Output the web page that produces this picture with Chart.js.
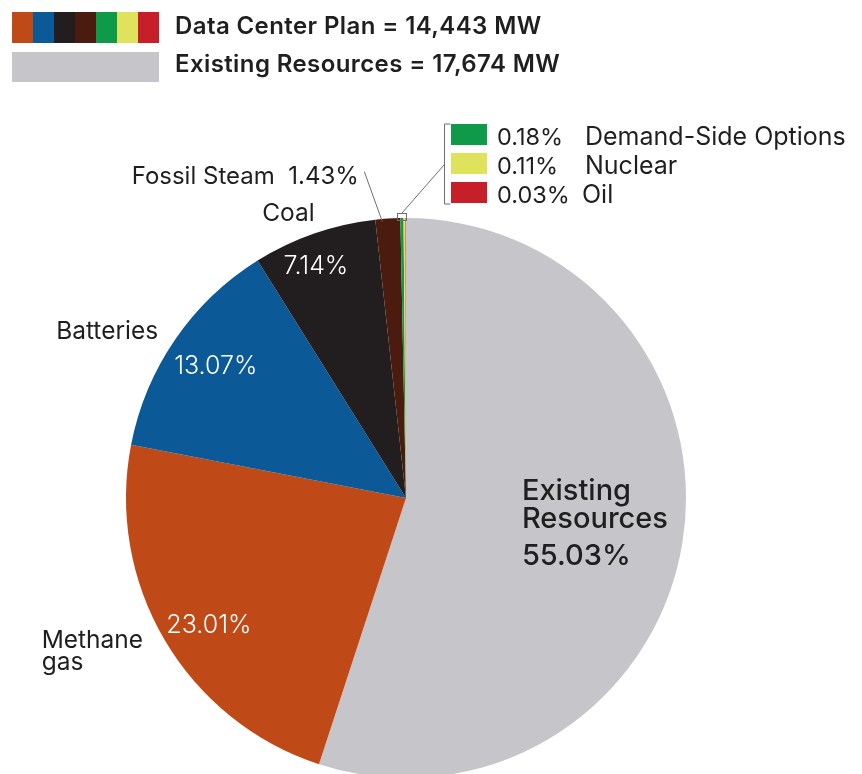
<!DOCTYPE html>
<html>
<head>
<meta charset="utf-8">
<script src="https://cdn.jsdelivr.net/npm/chart.js@4/dist/chart.umd.min.js"></script>
<style>
  html, body { margin: 0; padding: 0; background: #ffffff; overflow: hidden; }
  #wrap { position: relative; width: 862px; height: 774px; }
  #chart { position: absolute; left: 0; top: 0; }
  .sw { position: absolute; }
  .lt { position: absolute; left: 175px; font-family: Inter, "Liberation Sans", sans-serif; font-weight: 600;
        font-size: 24px; line-height: 24px; color: #1f1f1f; white-space: nowrap; letter-spacing: 0.4px; }
</style>
</head>
<body>
<div id="wrap">
  <canvas id="chart" width="862" height="774"></canvas>
  <div id="topLegend"></div>
</div>
<script>
// ---- data ----
const categories = ['Existing Resources', 'Methane gas', 'Batteries', 'Coal', 'Fossil Steam',
                    'Demand-Side Options', 'Nuclear', 'Oil'];
const shares = [55.03, 23.01, 13.07, 7.14, 1.43, 0.18, 0.11, 0.03];
const sliceColors = ['#c6c6ca', '#bf4a17', '#0b5a97', '#221e1f', '#4a1b0e', '#0f9a4a', '#dfe35c', '#c61f2a'];
const planTotalMW = '14,443';
const existingTotalMW = '17,674';
const groupTitles = ['Data Center Plan', 'Existing Resources'];

// ---- top legend (HTML) ----
const tl = document.getElementById('topLegend');
const planCols = sliceColors.slice(1);
planCols.forEach((c, i) => {
  const d = document.createElement('div');
  d.className = 'sw';
  d.style.cssText = `left:${12 + i * 21}px;top:12px;width:21px;height:31px;background:${c}`;
  tl.appendChild(d);
});
const g = document.createElement('div');
g.className = 'sw';
g.style.cssText = `left:12px;top:52px;width:147px;height:30px;background:${sliceColors[0]}`;
tl.appendChild(g);
const t1 = document.createElement('div');
t1.className = 'lt'; t1.style.top = '14px';
t1.textContent = `${groupTitles[0]} = ${planTotalMW} MW`;
tl.appendChild(t1);
const t2 = document.createElement('div');
t2.className = 'lt'; t2.style.top = '52px';
t2.textContent = `${groupTitles[1]} = ${existingTotalMW} MW`;
tl.appendChild(t2);

const pct = v => v.toFixed(2) + '%';
const FONT = 'Inter, "Liberation Sans", sans-serif';

// ---- labels plugin ----
const labelPlugin = {
  id: 'sliceLabels',
  afterDatasetsDraw(chart) {
    const ctx = chart.ctx;
    const arcs = chart.getDatasetMeta(0).data;
    const at = (i, rf) => {
      const a = arcs[i];
      const ang = (a.startAngle + a.endAngle) / 2;
      return { x: a.x + Math.cos(ang) * a.outerRadius * rf, y: a.y + Math.sin(ang) * a.outerRadius * rf };
    };
    ctx.save();
    ctx.textBaseline = 'alphabetic';

    // Existing resources inside label
    let p = at(0, 0.6);
    ctx.fillStyle = '#1f1f1f';
    ctx.font = `500 29px ${FONT}`;
    ctx.textAlign = 'left';
    ctx.fillText('Existing', p.x - 50, p.y - 24);
    ctx.fillText('Resources', p.x - 50, p.y + 4);
    ctx.fillText(pct(shares[0]), p.x - 50, p.y + 41);

    // inner white percentages
    ctx.fillStyle = '#ffffff';
    ctx.font = `300 25px ${FONT}`;
    ctx.textAlign = 'center';
    ctx.textBaseline = 'middle';
    const inner = [[1, 8, 7], [2, 6, 3], [3, -12, -7]];
    inner.forEach(([i, dx, dy]) => {
      const q = at(i, 0.85);
      ctx.fillText(pct(shares[i]), q.x + dx, q.y + dy);
    });

    // outer names
    ctx.fillStyle = '#1f1f1f';
    ctx.font = `400 24.5px ${FONT}`;
    ctx.textAlign = 'left';
    ctx.textBaseline = 'alphabetic';
    p = at(1, 1);
    ctx.fillText('Methane', p.x - 123, p.y + 8);
    ctx.fillText('gas', p.x - 123, p.y + 30);
    p = at(2, 1);
    ctx.fillText(categories[2], p.x - 119, p.y - 1);
    p = at(3, 1);
    ctx.fillText(categories[3], p.x - 52, p.y - 12);

    // Fossil steam with leader
    p = at(4, 1);
    ctx.textAlign = 'right';
    ctx.font = `400 24px ${FONT}`;
    ctx.fillText(`${categories[4]}  ${pct(shares[4])}`, p.x - 29, p.y - 35);
    ctx.strokeStyle = '#6f6f6f';
    ctx.lineWidth = 1;
    ctx.beginPath();
    ctx.moveTo(p.x - 5.5, p.y + 3);
    ctx.lineTo(p.x - 23.5, p.y - 47);
    ctx.stroke();

    // small slices callout
    const a7 = arcs[7];
    const tp = { x: a7.x + Math.cos(a7.endAngle) * a7.outerRadius, y: a7.y + Math.sin(a7.endAngle) * a7.outerRadius };
    ctx.strokeStyle = '#6f6f6f';
    ctx.lineWidth = 1;
    ctx.strokeRect(Math.round(tp.x - 9) + 0.5, Math.round(tp.y - 5) + 0.5, 9, 7);
    ctx.beginPath();
    ctx.moveTo(tp.x - 4, tp.y - 5);
    ctx.lineTo(tp.x + 38, tp.y - 53);
    ctx.stroke();
    const bx = Math.round(tp.x + 38) + 0.5;
    ctx.beginPath();
    ctx.moveTo(bx + 6, tp.y - 94);
    ctx.lineTo(bx, tp.y - 94);
    ctx.lineTo(bx, tp.y - 14);
    ctx.lineTo(bx + 6, tp.y - 14);
    ctx.stroke();

    ctx.textAlign = 'left';
    [5, 6, 7].forEach((i, k) => {
      const base = tp.y - 73 + k * 29;
      ctx.fillStyle = sliceColors[i];
      ctx.fillRect(tp.x + 45, base - 21, 36, 21);
      ctx.fillStyle = '#1f1f1f';
      ctx.font = `400 23.5px ${FONT}`;
      ctx.fillText(pct(shares[i]), tp.x + 91, base);
      ctx.font = `400 25px ${FONT}`;
      ctx.fillText(categories[i], tp.x + (i === 7 ? 176 : 179), base);
    });
    ctx.restore();
  }
};

new Chart(document.getElementById('chart').getContext('2d'), {
  type: 'pie',
  data: {
    labels: categories,
    datasets: [{
      data: shares,
      backgroundColor: sliceColors,
      borderWidth: 0,
      radius: 280
    }]
  },
  options: {
    responsive: false,
    animation: false,
    layout: { padding: { left: 0, right: 50, top: 232, bottom: 10 } },
    plugins: { legend: { display: false }, tooltip: { enabled: false } }
  },
  plugins: [labelPlugin]
});
</script>
</body>
</html>
